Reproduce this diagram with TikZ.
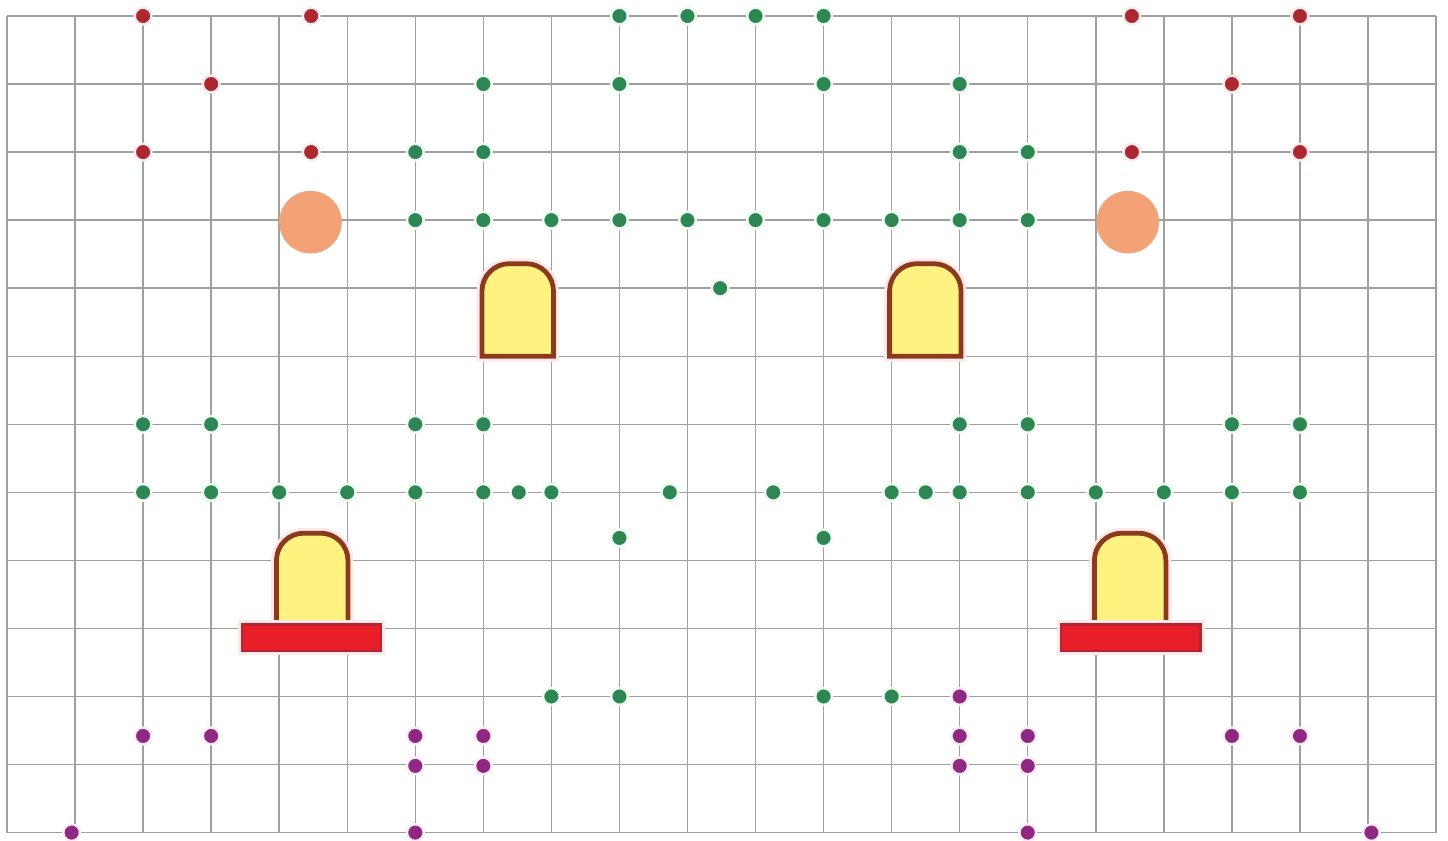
\documentclass[tikz,border=0pt]{standalone}
\usepackage{xcolor}
\usepackage{tikz}
\usetikzlibrary{positioning}
\definecolor{gridgray}{RGB}{160,160,160}
\definecolor{dotred}{RGB}{172,40,48}
\definecolor{dotgreen}{RGB}{46,134,84}
\definecolor{dotpurple}{RGB}{142,40,130}
\definecolor{peach}{RGB}{242,162,118}
\definecolor{archfill}{RGB}{255,242,128}
\definecolor{archline}{RGB}{140,58,30}
\definecolor{barred}{RGB}{232,30,40}
\definecolor{barline}{RGB}{180,36,52}

\begin{document}
\begin{tikzpicture}[
  gridline/.style={draw=gridgray, line width=0.6pt},
  dot/.style={circle, inner sep=0pt, minimum size=0.245cm, line width=1pt},
  reddot/.style={dot, fill=dotred, draw=red!8},
  greendot/.style={dot, fill=dotgreen, draw=green!7},
  purpledot/.style={dot, fill=dotpurple, draw=magenta!7},
  ball/.style={circle, inner sep=0pt, minimum size=0.9cm, fill=peach, draw=peach!85!brown!90, line width=0.6pt},
  arch/.style={fill=archfill, draw=archline, line width=2pt,
               preaction={draw=red!9, line width=4.5pt}},
  bar/.style={fill=barred, draw=barline, line width=1pt,
              preaction={draw=red!9, line width=3.5pt}}
]
  \useasboundingbox (-0.103,-12.12) rectangle (21.176,0.235);

  % grid
  \draw[gridline] (0,0) grid (21,-12);

  % red dots
  \foreach \x/\y [count=\i] in {2/0, 4.47/0, 3/1, 2/2, 4.47/2,
                                 16.53/0, 19/0, 18/1, 16.53/2, 19/2}
    \node[reddot] (r\i) at (\x,-\y) {};

  % peach balls
  \node[ball] (ballL) at (4.46,-3.03) {};
  \node[ball] (ballR) at (16.47,-3.03) {};

  % green dots
  \foreach \x/\y [count=\i] in {9/0, 10/0, 11/0, 12/0,
                                 7/1, 9/1, 12/1, 14/1,
                                 6/2, 7/2, 14/2, 15/2,
                                 6/3, 7/3, 8/3, 9/3, 10/3, 11/3, 12/3, 13/3, 14/3, 15/3,
                                 10.48/4,
                                 2/6, 3/6, 6/6, 7/6, 14/6, 15/6, 18/6, 19/6,
                                 2/7, 3/7, 4/7, 5/7, 6/7, 7/7, 7.52/7, 8/7, 9.74/7,
                                 11.26/7, 13/7, 13.5/7, 14/7, 15/7, 16/7, 17/7, 18/7, 19/7,
                                 9/7.67, 12/7.67,
                                 8/10, 9/10, 12/10, 13/10}
    \node[greendot] (g\i) at (\x,-\y) {};

  % purple dots
  \foreach \x/\y [count=\i] in {14/10,
                                 2/10.58, 3/10.58, 6/10.58, 7/10.58,
                                 14/10.58, 15/10.58, 18/10.58, 19/10.58,
                                 6/11.02, 7/11.02, 14/11.02, 15/11.02,
                                 0.95/12, 6/12, 15/12, 20.05/12}
    \node[purpledot] (p\i) at (\x,-\y) {};

  % arches
  \foreach \ax/\ay in {6.98/5, 12.97/5, 3.96/8.96, 15.98/8.96}
    \draw[arch] (\ax,-\ay) -- ++(0,0.96) arc (180:90:0.4)
      -- ++(0.25,0) arc (90:0:0.4) -- ++(0,-0.96) -- cycle;

  % red bars
  \foreach \bx in {3.45, 15.49}
    \draw[bar] (\bx,-8.94) rectangle ++(2.05,-0.39);
\end{tikzpicture}
\end{document}
